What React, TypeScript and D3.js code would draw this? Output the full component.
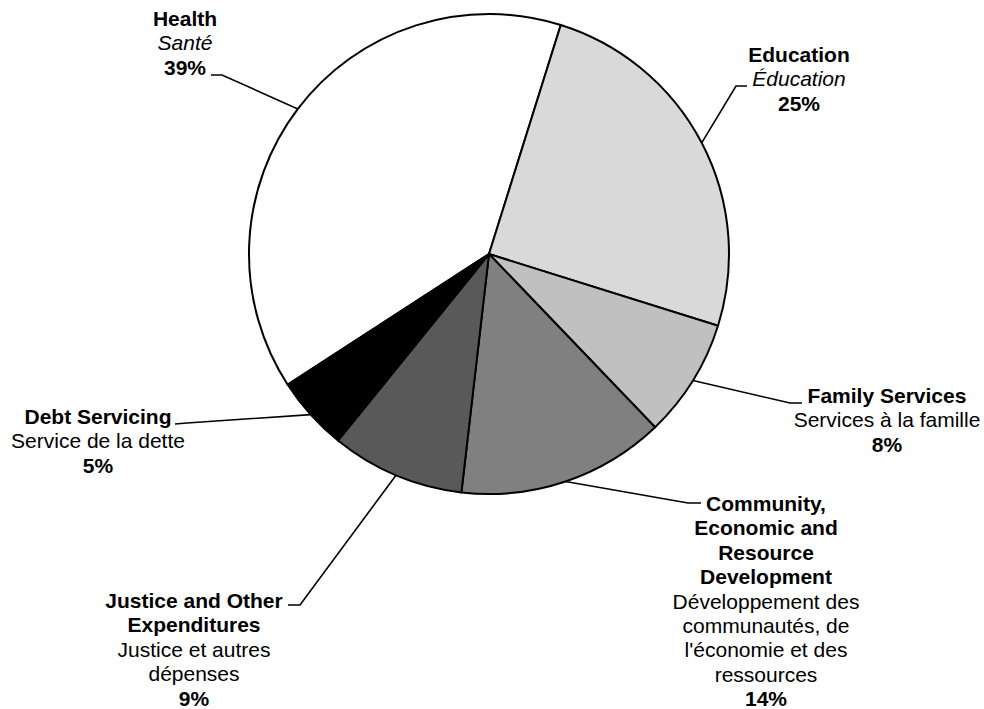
import React from "react";
import * as d3 from "d3";

// spending shares, clockwise from Health
const categories = ["Health", "Education", "Family Services", "Community", "Justice", "Debt Servicing"];
const shares = [39, 25, 8, 14, 9, 5];
const labelsEn = [
  ["Health"],
  ["Education"],
  ["Family Services"],
  ["Community,", "Economic and", "Resource", "Development"],
  ["Justice and Other", "Expenditures"],
  ["Debt Servicing"],
];
const labelsFr = [
  ["Santé"],
  ["Éducation"],
  ["Services à la famille"],
  ["Développement des", "communautés, de", "l'économie et des", "ressources"],
  ["Justice et autres", "dépenses"],
  ["Service de la dette"],
];
const frItalic = [true, true, false, false, false, false];
const fills = ["#ffffff", "#d9d9d9", "#c0c0c0", "#808080", "#595959", "#000000"];

// label layout: text centre x, first baseline y, leader elbow and end
const labelPos = [
  { x: 185, y: 26, elbow: [222, 75], end: [211, 75] },
  { x: 799, y: 62, elbow: [736, 86], end: [747, 86] },
  { x: 887, y: 403, elbow: [790, 403], end: [802, 403] },
  { x: 766, y: 511, elbow: [688, 503], end: [701, 503] },
  { x: 194, y: 608, elbow: [300, 605], end: [288, 605] },
  { x: 98, y: 424, elbow: [187, 423], end: [175, 424] },
];

const width = 984;
const height = 709;
const cx = 489;
const cy = 254;
const radius = 240;
const lineH = 24.4;

export default function App() {
  const start = (-123 * Math.PI) / 180;
  const pie = d3
    .pie<number>()
    .sort(null)
    .startAngle(start)
    .endAngle(start + 2 * Math.PI);
  const arcs = pie(shares);
  const arc = d3.arc<d3.PieArcDatum<number>>().innerRadius(0).outerRadius(radius);

  return (
    <svg
      width={width}
      height={height}
      style={{ position: "absolute", left: 0, top: 0, background: "#fff" }}
      fontFamily="'Liberation Sans', Arial, sans-serif"
      fontSize={21}
    >
      <g transform={`translate(${cx},${cy})`}>
        {arcs.map((d, i) => (
          <path key={categories[i]} d={arc(d) ?? ""} fill={fills[i]} stroke="#000" strokeWidth={2} strokeLinejoin="round" />
        ))}
      </g>
      {arcs.map((d, i) => {
        // leader starts on the rim at the slice's mid angle
        const a = (d.startAngle + d.endAngle) / 2;
        const px = cx + radius * Math.sin(a);
        const py = cy - radius * Math.cos(a);
        const p = labelPos[i];
        const line = d3.line()([[px, py], p.elbow as [number, number], p.end as [number, number]]);
        const rows: { t: string; w: string; s: string }[] = [
          ...labelsEn[i].map((t) => ({ t, w: "bold", s: "normal" })),
          ...labelsFr[i].map((t) => ({ t, w: "normal", s: frItalic[i] ? "italic" : "normal" })),
          { t: `${shares[i]}%`, w: "bold", s: "normal" },
        ];
        return (
          <g key={`lab-${categories[i]}`}>
            <path d={line ?? ""} fill="none" stroke="#000" strokeWidth={1.6} />
            {rows.map((r, j) => (
              <text
                key={j}
                x={p.x}
                y={p.y + j * lineH}
                textAnchor="middle"
                fontWeight={r.w}
                fontStyle={r.s}
                fill="#000"
              >
                {r.t}
              </text>
            ))}
          </g>
        );
      })}
    </svg>
  );
}
